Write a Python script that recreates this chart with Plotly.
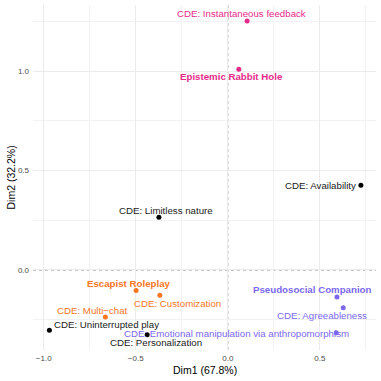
import plotly.graph_objects as go

# ---- data ----
labels = [
    "CDE: Instantaneous feedback", "Epistemic Rabbit Hole", "CDE: Availability",
    "CDE: Limitless nature", "Escapist Roleplay", "CDE: Customization",
    "CDE: Multi\u2212chat", "CDE: Uninterrupted play", "CDE: Personalization",
    "Pseudosocial Companion", "CDE: Agreeableness",
    "CDE: Emotional manipulation via anthropomorphism",
]
dim1 = [0.105, 0.060, 0.723, -0.374, -0.498, -0.369, -0.665, -0.969, -0.438, 0.593, 0.627, 0.589]
dim2 = [1.254, 1.010, 0.426, 0.265, -0.104, -0.127, -0.237, -0.304, -0.326, -0.136, -0.190, -0.316]
groups = ["epi", "epi", "none", "none", "esc", "esc", "esc", "none", "none", "pse", "pse", "pse"]
is_archetype = [False, True, False, False, True, False, False, False, False, True, False, False]

x_ticks = [-1.0, -0.5, 0.0, 0.5]
x_ticklabels = ["\u22121.0", "\u22120.5", "0.0", "0.5"]
y_ticks = [0.0, 0.5, 1.0]
y_ticklabels = ["0.0", "0.5", "1.0"]
x_title = "Dim1 (67.8%)"
y_title = "Dim2 (32.2%)"

# ---- styles ----
FONT = "Liberation Sans, Arial"
colors = {"epi": "#E7298A", "esc": "#F7761F", "pse": "#7B68EE", "none": "#000000"}
text_colors = {"epi": "#E7298A", "esc": "#F7761F", "pse": "#7B68EE", "none": "#1A1A1A"}
# label offsets in pixels (dx right, dy down) relative to the point
offsets = [(-6, -7), (-7, 7), (-40, 0), (7, -7), (-7, -7), (18, 8),
           (-13, -7), (57, -6), (8.5, 8), (-24, -7), (-21, 8), (-100, 1)]

fig = go.Figure()
fig.add_trace(go.Scatter(
    x=dim1, y=dim2, mode="markers",
    marker=dict(size=5, color=[colors[g] for g in groups]),
    hoverinfo="text", text=labels, showlegend=False, cliponaxis=False,
))

for lab, x, y, g, arch, (dx, dy) in zip(labels, dim1, dim2, groups, is_archetype, offsets):
    fig.add_annotation(
        x=x, y=y, text=f"<b>{lab}</b>" if arch else lab, showarrow=False,
        xanchor="center", yanchor="middle", xshift=dx, yshift=-dy,
        font=dict(family=FONT, size=9.7, color=text_colors[g]),
    )

fig.add_shape(type="line", x0=0, x1=0, y0=0, y1=1, xref="x", yref="paper",
              line=dict(color="#5E5E5E", width=0.8, dash="3px,3px"), layer="below")
fig.add_shape(type="line", x0=0, x1=1, y0=0, y1=0, xref="paper", yref="y",
              line=dict(color="#5E5E5E", width=0.8, dash="3px,3px"), layer="below")

# axis titles
fig.add_annotation(x=0.5, y=0, xref="paper", yref="paper", text=x_title, showarrow=False,
                   xanchor="center", yanchor="middle", yshift=-20,
                   font=dict(family=FONT, size=10.5, color="#000000"))
fig.add_annotation(x=0, y=0.5, xref="paper", yref="paper", text=y_title, showarrow=False,
                   xanchor="center", yanchor="middle", xshift=-23, textangle=-90,
                   font=dict(family=FONT, size=10.5, color="#000000"))

axis_common = dict(
    showgrid=True, gridcolor="#EBEBEB", gridwidth=1, zeroline=False, automargin=False,
    showline=False, ticks="", tickfont=dict(family=FONT, size=8, color="#4D4D4D"),
)

fig.update_xaxes(range=[-1.058, 0.805], tickvals=x_ticks, ticktext=x_ticklabels,
                 ticklabelstandoff=2,
                 minor=dict(showgrid=True, gridcolor="#F2F2F2", gridwidth=0.6,
                            tickvals=[-0.75, -0.25, 0.25, 0.75]),
                 **axis_common)
fig.update_yaxes(range=[-0.403, 1.334], tickvals=y_ticks, ticktext=y_ticklabels,
                 ticklabelstandoff=3,
                 minor=dict(showgrid=True, gridcolor="#F2F2F2", gridwidth=0.6,
                            tickvals=[-0.25, 0.25, 0.75, 1.25]),
                 **axis_common)

fig.update_layout(
    width=381, height=381,
    margin=dict(l=33, r=5, t=5, b=31),
    plot_bgcolor="white", paper_bgcolor="white",
    font=dict(family=FONT),
)

fig.write_html("out.html", config={"displayModeBar": False},
               post_script="document.body.style.margin='0';document.body.style.overflow='hidden';")
